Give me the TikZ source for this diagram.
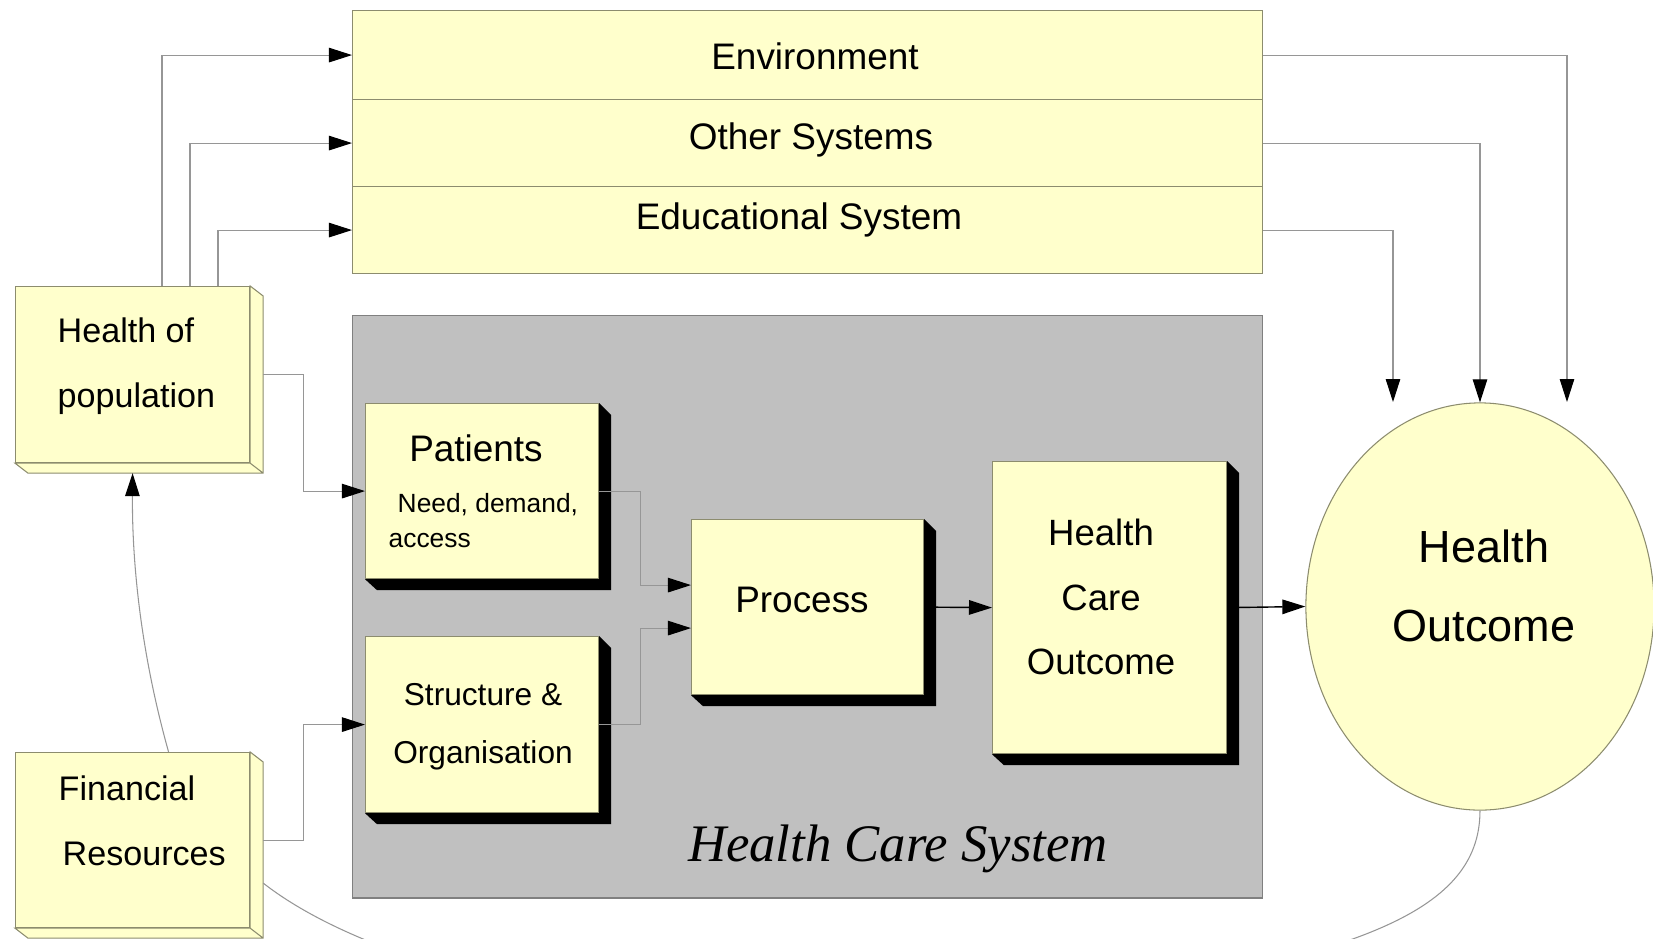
\documentclass[tikz,border=0pt]{standalone}
\usepackage{fontspec}
\setmainfont{Liberation Sans}
\newfontfamily\serifitalic{Liberation Serif}
\usepackage{tikz}
\usetikzlibrary{shapes.geometric,arrows.meta,calc}
\definecolor{paleyellow}{RGB}{255,255,204}
\definecolor{boxline}{RGB}{140,140,110}
\definecolor{panelgray}{RGB}{192,192,192}
\definecolor{panelline}{RGB}{128,128,128}
\definecolor{wiregray}{RGB}{150,150,150}

\begin{document}
\begin{tikzpicture}[x=0.01cm, y=-0.01cm,
    ybox/.style={draw=boxline, fill=paleyellow, line width=0.3pt, inner sep=0pt, anchor=north west},
    wire/.style={draw=wiregray, line width=0.3pt},
    arrowed/.style={-{Triangle[length=2.3mm,width=1.45mm,color=black]}},
    txt/.style={inner sep=0pt, font=\fontsize{10.5}{18.5}\selectfont}]
    \useasboundingbox (0,0) rectangle (1653,938);
    \clip (0,0) rectangle (1653,938);

    % Surrounding systems
    \node[ybox, minimum width=9.09cm, minimum height=0.89cm] (env) at (352,10) {};
    \node[ybox, minimum width=9.09cm, minimum height=0.87cm] (oth) at (352,99) {};
    \node[ybox, minimum width=9.09cm, minimum height=0.87cm] (edu) at (352,186) {};
    \node[txt] (envtxt) at (815,56) {Environment};
    \node[txt] (othtxt) at (811,140) {Other Systems};
    \node[txt] (edutxt) at (799,220) {Educational System};

    % Health care system panel
    \node[draw=panelline, fill=panelgray, line width=0.4pt, inner sep=0pt, anchor=north west,
          minimum width=9.09cm, minimum height=5.82cm] (hcs) at (352,315) {};
    \node[txt, font=\serifitalic\itshape\fontsize{15}{18}\selectfont] (hcstxt) at (898,849) {Health Care System};

    % Inputs (3D boxes)
    \node[ybox, minimum width=2.34cm, minimum height=1.76cm] (hpop) at (15,286) {};
    \node[ybox, minimum width=2.34cm, minimum height=1.75cm] (fin) at (15,752) {};
    \foreach \b in {hpop,fin} {
        \filldraw[draw=boxline, fill=paleyellow, line width=0.3pt]
            (\b.north east) -- ++(13,10) -- ($(\b.south east)+(13,10)$) -- ($(\b.south west)+(13,10)$)
            -- (\b.south west) -- (\b.south east) -- cycle (\b.south east) -- ++(13,10);
    }
    \node[txt, align=left, anchor=west, font=\fontsize{9.7}{18.5}\selectfont] (hpoptxt) at (57,366) {Health of\\population};
    \node[txt, align=left, anchor=west, font=\fontsize{9.7}{18.5}\selectfont] (fintxt) at (58,821) {Financial\\\hspace*{0.4mm}Resources};

    % Health care system boxes
    \node[ybox, minimum width=2.33cm, minimum height=1.75cm] (pat) at (365,403) {};
    \node[ybox, minimum width=2.33cm, minimum height=1.76cm] (struc) at (365,636) {};
    \node[ybox, minimum width=2.32cm, minimum height=1.75cm] (proc) at (691,519) {};
    \node[ybox, minimum width=2.34cm, minimum height=2.92cm] (hco) at (992,461) {};
    \foreach \b in {pat,struc,proc,hco} {
        \fill (\b.north east) -- ($(\b.north east)+(12,12)$) -- ($(\b.south east)+(12,11)$)
            -- ($(\b.south west)+(12,11)$) -- (\b.south west) -- (\b.south east) -- cycle;
    }
    \node[txt] (pattxt) at (476,448) {Patients};
    \node[txt, align=left, anchor=west, font=\fontsize{7.5}{10}\selectfont] (patsub) at (388,520.5)
        {\hspace*{0.9mm}Need, demand,\\access};
    \node[txt, align=center, font=\fontsize{9}{16.5}\selectfont] (structxt) at (483,727) {Structure \&\\Organisation};
    \node[txt] (proctxt) at (802,600) {Process};
    \node[txt, align=center, font=\fontsize{10.4}{18.4}\selectfont] (hcotxt) at (1101,597) {Health\\Care\\Outcome};

    % Health outcome
    \node[ellipse, draw=boxline, fill=paleyellow, line width=0.3pt, inner sep=0pt,
          minimum width=3.48cm, minimum height=4.07cm] (ho) at (1480,606.5) {};
    \node[txt, align=center, font=\fontsize{12.8}{22.5}\selectfont] (hotxt) at (1484,585.5) {Health\\Outcome};
    \coordinate (tipenv) at (1567,402);
    \coordinate (tipedu) at (1393,402);

    % Connectors
    \draw[wire, arrowed] ($(hpop.north west)+(147,0)$) |- (env.west);
    \draw[wire, arrowed] ($(hpop.north west)+(175,0)$) |- (oth.west);
    \draw[wire, arrowed] ($(hpop.north west)+(203,0)$) |- (edu.west);
    \draw[wire, arrowed] (env.east) -| (tipenv);
    \draw[wire, arrowed] (oth.east) -| (ho.north);
    \draw[wire, arrowed] (edu.east) -| (tipedu);
    \draw[wire, arrowed] ($(hpop.east)+(13,0)$) -- ++(40,0) |- (pat.west);
    \draw[wire, arrowed] ($(fin.east)+(13,0)$) -- ++(40,0) |- (struc.west);
    \draw[wire, arrowed] (pat.east) -- ++(41,0) |- ($(proc.west)+(0,-22)$);
    \draw[wire, arrowed] (struc.east) -- ++(41,0) |- ($(proc.west)+(0,21)$);
    \draw[arrowed, line width=0.4pt] (proc.east) -- (hco.west);
    \draw[arrowed, line width=0.4pt] (hco.east) -- (ho.west);

    % Feedback loop
    \draw[wire, arrowed] ($(fin.north)+(36,0)$) .. controls (140,650) and (132,560) .. ($(hpop.south)+(0,10)$);
    \draw[wire] (ho.south) .. controls (1480,915) and (1350,958) .. (1050,1005)
        .. controls (750,1052) and (400,990) .. ($(fin.east)+(13,43)$);
\end{tikzpicture}
\end{document}
